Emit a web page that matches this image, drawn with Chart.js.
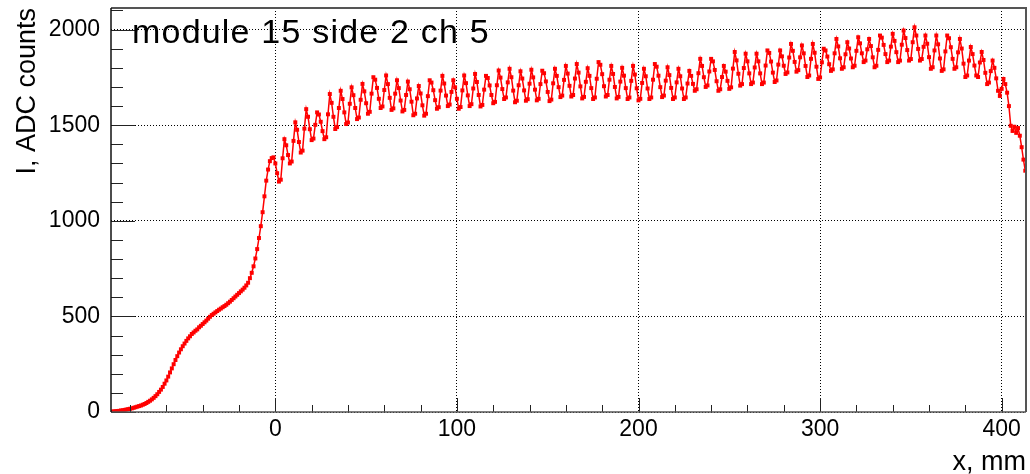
<!DOCTYPE html>
<html>
<head>
    <title>module 15 side 2 ch 5</title>
    <meta charset="UTF-8">
    <script src="https://cdn.jsdelivr.net/npm/chart.js"></script>
    <style>
        html, body { margin: 0; padding: 0; background: #ffffff; }
        canvas { display: block; }
    </style>
</head>
<body>
    <canvas id="scan_chart" width="1030" height="474"></canvas>
    <script>
        // scan along the module, one reading per mm
        var xStart = -90;
        var xStep = 1;

        // rising edge, x = -90 .. -2
        var riseValues = [
            2, 3, 4, 5, 6, 8, 9, 11, 13, 15,
            17, 19, 22, 25, 28, 31, 34, 38, 42, 47,
            53, 59, 66, 74, 83, 93, 105, 117, 131, 148,
            165, 185, 207, 228, 250, 272, 292, 311, 328, 344,
            358, 372, 385, 396, 408, 416, 425, 432, 443, 451,
            460, 469, 478, 488, 498, 507, 514, 521, 528, 535,
            541, 548, 554, 561, 569, 577, 586, 595, 604, 613,
            622, 631, 640, 650, 662, 676, 700, 728, 762, 803,
            852, 910, 972, 1045, 1128, 1210, 1268, 1312, 1328
        ];

        // ripple along the fibres, x = -1 .. 400
        var rippleValues = [
            1332, 1300, 1249, 1205, 1215, 1327,
            1427, 1395, 1344, 1300, 1310, 1418,
            1515, 1476, 1412, 1357, 1367, 1482,
            1584, 1544, 1479, 1422, 1430, 1502,
            1567, 1556, 1518, 1469, 1427, 1437, 1557,
            1663, 1617, 1544, 1480, 1490, 1590,
            1680, 1637, 1567, 1506, 1514, 1612,
            1698, 1657, 1590, 1532, 1540, 1633,
            1716, 1677, 1615, 1560, 1570, 1665,
            1751, 1738, 1695, 1638, 1590, 1598, 1684,
            1760, 1715, 1643, 1580, 1588, 1665,
            1735, 1694, 1629, 1572, 1580, 1658,
            1728, 1688, 1623, 1552, 1560, 1640,
            1705, 1666, 1604, 1550, 1560, 1652,
            1735, 1723, 1683, 1631, 1586, 1594, 1681,
            1758, 1718, 1655, 1600, 1608, 1674,
            1735, 1698, 1638, 1586, 1595, 1682,
            1760, 1720, 1656, 1600, 1610, 1692,
            1768, 1726, 1658, 1598, 1606, 1686,
            1758, 1747, 1708, 1658, 1615, 1622, 1709,
            1786, 1749, 1689, 1637, 1645, 1724,
            1795, 1751, 1681, 1620, 1628, 1709,
            1782, 1744, 1682, 1628, 1636, 1717,
            1790, 1750, 1686, 1630, 1638, 1715,
            1785, 1772, 1729, 1674, 1626, 1634, 1719,
            1795, 1758, 1699, 1647, 1655, 1737,
            1810, 1770, 1706, 1650, 1658, 1744,
            1820, 1775, 1703, 1640, 1648, 1727,
            1798, 1758, 1694, 1637, 1645, 1743,
            1830, 1816, 1767, 1704, 1650, 1658, 1738,
            1810, 1768, 1700, 1640, 1648, 1728,
            1800, 1759, 1694, 1637, 1645, 1732,
            1810, 1765, 1693, 1630, 1638, 1721,
            1795, 1756, 1692, 1637, 1645, 1738,
            1820, 1806, 1759, 1699, 1647, 1655, 1733,
            1803, 1762, 1695, 1637, 1645, 1724,
            1795, 1756, 1692, 1637, 1645, 1718,
            1784, 1758, 1716, 1680, 1688, 1772,
            1847, 1810, 1751, 1700, 1708, 1781,
            1847, 1834, 1789, 1730, 1680, 1688, 1752,
            1810, 1780, 1732, 1690, 1698, 1796,
            1883, 1839, 1769, 1707, 1715, 1799,
            1874, 1834, 1771, 1715, 1723, 1802,
            1874, 1834, 1771, 1715, 1723, 1812,
            1891, 1878, 1833, 1775, 1726, 1734, 1817,
            1891, 1860, 1811, 1768, 1776, 1854,
            1925, 1889, 1831, 1780, 1788, 1855,
            1917, 1876, 1810, 1752, 1760, 1847,
            1925, 1879, 1806, 1742, 1750, 1829,
            1900, 1891, 1859, 1819, 1784, 1792, 1876,
            1951, 1912, 1850, 1795, 1803, 1871,
            1934, 1901, 1849, 1803, 1811, 1889,
            1960, 1928, 1876, 1830, 1838, 1897,
            1951, 1914, 1855, 1803, 1811, 1894,
            1969, 1958, 1920, 1872, 1830, 1838, 1911,
            1978, 1941, 1882, 1830, 1838, 1921,
            1995, 1956, 1893, 1838, 1846, 1934,
            2012, 1969, 1899, 1838, 1846, 1910,
            1969, 1926, 1856, 1795, 1803, 1891,
            1969, 1923, 1849, 1784, 1792, 1886,
            1969, 1955, 1908, 1847, 1795, 1803, 1881,
            1951, 1901, 1822, 1752, 1760, 1838,
            1909, 1872, 1812, 1760, 1752, 1828,
            1883, 1841, 1774, 1715, 1723, 1783,
            1838, 1800, 1745, 1680, 1653, 1690
        ];

        // far end of the module, x = 401 .. 413
        var tailValues = [1742, 1715, 1670, 1600, 1497, 1470, 1492, 1460, 1485, 1445, 1385, 1320, 1262];

        var xTickValues = [0, 100, 200, 300, 400];
        var yTickValues = [0, 500, 1000, 1500, 2000];
        var chartTitle = 'module 15 side 2 ch 5';
        var xTitle = 'x, mm';
        var yTitle = 'I, ADC counts';

        var allValues = riseValues.concat(rippleValues, tailValues);
        var points = allValues.map(function (v, i) {
            return { x: xStart + i * xStep, y: v };
        });

        var fontFamily = '"Liberation Sans", Arial, Helvetica, sans-serif';

        // ROOT style frame with ticks pointing into the pad
        var rootFrame = {
            id: 'rootFrame',
            afterDatasetsDraw: function (chart) {
                var ctx = chart.ctx;
                var a = chart.chartArea;
                var xs = chart.scales.x;
                var ys = chart.scales.y;
                var v, p, len;
                ctx.save();
                ctx.lineWidth = 1;
                ctx.strokeStyle = '#222';
                ctx.beginPath();
                for (v = Math.ceil(xs.min / 20) * 20; v <= xs.max; v += 20) {
                    p = Math.round(xs.getPixelForValue(v)) + 0.5;
                    len = (v % 100 === 0) ? 14 : 7;
                    ctx.moveTo(p, a.bottom);
                    ctx.lineTo(p, a.bottom - len);
                }
                for (v = 0; v <= ys.max; v += 100) {
                    p = Math.round(ys.getPixelForValue(v)) + 0.5;
                    len = (v % 500 === 0) ? 24 : 12;
                    ctx.moveTo(a.left, p);
                    ctx.lineTo(a.left + len, p);
                }
                ctx.stroke();

                ctx.strokeStyle = '#555';
                ctx.lineWidth = 2;
                ctx.beginPath();
                ctx.moveTo(a.left, a.top);
                ctx.lineTo(a.right, a.top);
                ctx.lineTo(a.right, a.bottom);
                ctx.stroke();
                ctx.lineWidth = 1.5;
                ctx.beginPath();
                ctx.moveTo(a.left, a.bottom);
                ctx.lineTo(a.right, a.bottom);
                ctx.stroke();
                ctx.strokeStyle = '#111';
                ctx.beginPath();
                ctx.moveTo(a.left, a.top);
                ctx.lineTo(a.left, a.bottom);
                ctx.stroke();
                ctx.restore();
            }
        };

        // title written inside the pad, top left
        var padTitle = {
            id: 'padTitle',
            afterDraw: function (chart) {
                var ctx = chart.ctx;
                var a = chart.chartArea;
                ctx.save();
                ctx.font = '34px ' + fontFamily;
                ctx.letterSpacing = '1.2px';
                ctx.fillStyle = '#000';
                ctx.textAlign = 'left';
                ctx.textBaseline = 'alphabetic';
                ctx.fillText(chartTitle, a.left + 21, a.top + 35);
                ctx.restore();
            }
        };

        var ctx = document.getElementById('scan_chart').getContext('2d');
        var chart = new Chart(ctx, {
            type: 'line',
            data: {
                datasets: [{
                    data: points,
                    borderColor: '#ff0000',
                    backgroundColor: '#ff0000',
                    borderWidth: 1.5,
                    pointStyle: 'rect',
                    pointRadius: 2.8,
                    pointBorderWidth: 0,
                    pointHoverRadius: 2.8,
                    tension: 0,
                    fill: false
                }]
            },
            options: {
                responsive: false,
                animation: false,
                events: [],
                layout: {
                    padding: { top: 8, right: 4, left: 0, bottom: 0 },
                    autoPadding: false
                },
                plugins: {
                    legend: { display: false },
                    tooltip: { enabled: false }
                },
                scales: {
                    x: {
                        type: 'linear',
                        min: -90.5,
                        max: 413.4,
                        afterBuildTicks: function (scale) {
                            scale.ticks = xTickValues.map(function (v) { return { value: v }; });
                        },
                        afterFit: function (scale) {
                            scale.height = 62;
                            scale.paddingLeft = 0;
                            scale.paddingRight = 0;
                            scale.paddingTop = 0;
                            scale.paddingBottom = 0;
                        },
                        grid: { color: '#000', lineWidth: 1, drawTicks: false },
                        border: { display: false, dash: [1, 2] },
                        ticks: {
                            font: { family: fontFamily, size: 23 },
                            color: '#000',
                            padding: 4,
                            maxRotation: 0,
                            autoSkip: false,
                            callback: function (v) { return String(v); }
                        },
                        title: {
                            display: true,
                            text: xTitle,
                            align: 'end',
                            color: '#000',
                            font: { family: fontFamily, size: 27, lineHeight: 1 },
                            padding: { top: 0, bottom: -2 }
                        }
                    },
                    y: {
                        type: 'linear',
                        min: 0,
                        max: 2113,
                        afterBuildTicks: function (scale) {
                            scale.ticks = yTickValues.map(function (v) { return { value: v }; });
                        },
                        afterFit: function (scale) {
                            scale.width = 111;
                            scale.paddingLeft = 0;
                            scale.paddingRight = 0;
                            scale.paddingTop = 0;
                            scale.paddingBottom = 0;
                        },
                        grid: { color: '#000', lineWidth: 1, drawTicks: false },
                        border: { display: false, dash: [1, 2] },
                        ticks: {
                            font: { family: fontFamily, size: 23 },
                            color: '#000',
                            padding: 11,
                            autoSkip: false,
                            callback: function (v) { return String(v); }
                        },
                        title: {
                            display: true,
                            text: yTitle,
                            align: 'end',
                            color: '#000',
                            font: { family: fontFamily, size: 27, lineHeight: 1.2 },
                            padding: { top: 11, bottom: 0 }
                        }
                    }
                }
            },
            plugins: [rootFrame, padTitle]
        });
    </script>
</body>
</html>
